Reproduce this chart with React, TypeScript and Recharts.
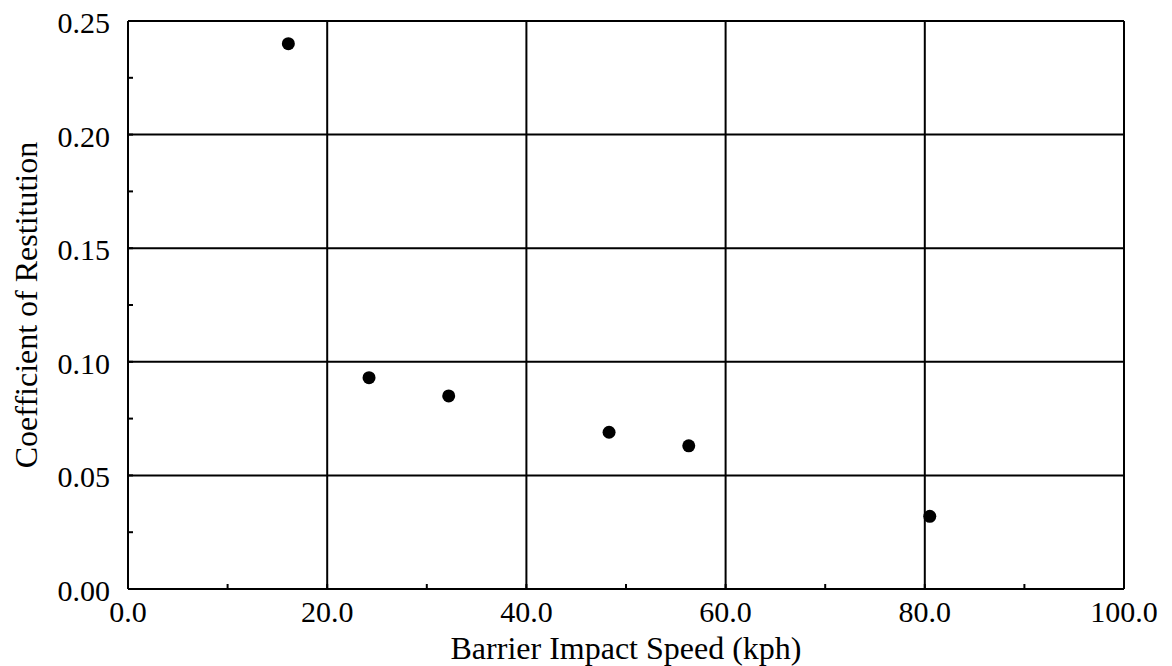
import { ScatterChart, Scatter, XAxis, YAxis, ReferenceLine } from 'recharts';

const speeds = [16.1, 24.2, 32.2, 48.3, 56.3, 80.5];
const restitution = [0.24, 0.093, 0.085, 0.069, 0.063, 0.032];

const xTicks = [0, 10, 20, 30, 40, 50, 60, 70, 80, 90, 100];
const xMajor = [0, 20, 40, 60, 80, 100];
const yTicks = [0, 0.025, 0.05, 0.075, 0.1, 0.125, 0.15, 0.175, 0.2, 0.225, 0.25];
const yMajor = [0, 0.05, 0.1, 0.15, 0.2, 0.25];

const data = speeds.map((s, i) => ({ speed: s, cor: restitution[i] }));

const FONT = '"Liberation Serif", "Times New Roman", serif';
const TICK_LEN = 5;

const isMajor = (v: number, majors: number[]) => majors.some((m) => Math.abs(m - v) < 1e-9);

function BottomTick({ x, y, payload }: any) {
  const major = isMajor(payload.value, xMajor);
  return (
    <g>
      <line x1={x} x2={x} y1={y} y2={y - TICK_LEN} stroke="#000" strokeWidth={2} />
      {major && (
        <text x={x} y={y + 33} textAnchor="middle" fontFamily={FONT} fontSize={30} fill="#000">
          {payload.value.toFixed(1)}
        </text>
      )}
    </g>
  );
}

function TopTick({ x, y }: any) {
  return <line x1={x} x2={x} y1={y} y2={y + TICK_LEN} stroke="#000" strokeWidth={2} />;
}

function LeftTick({ x, y, payload }: any) {
  const major = isMajor(payload.value, yMajor);
  return (
    <g>
      <line x1={x} x2={x + TICK_LEN} y1={y} y2={y} stroke="#000" strokeWidth={2} />
      {major && (
        <text x={x - 18} y={y + 12} textAnchor="end" fontFamily={FONT} fontSize={30} fill="#000">
          {payload.value.toFixed(2)}
        </text>
      )}
    </g>
  );
}

function RightTick({ x, y }: any) {
  return <line x1={x} x2={x - TICK_LEN} y1={y} y2={y} stroke="#000" strokeWidth={2} />;
}

const Dot = (props: any) => <circle cx={props.cx} cy={props.cy} r={6.5} fill="#000" />;

export default function App() {
  return (
    <div style={{ marginTop: -8, marginLeft: -8, width: 1172, height: 666 }}>
      <ScatterChart width={1172} height={666} margin={{ top: 21, right: 48, bottom: 0, left: 0 }}>
        <XAxis
          xAxisId="b"
          dataKey="speed"
          type="number"
          domain={[0, 100]}
          ticks={xTicks}
          interval={0}
          height={77}
          tickSize={0}
          tickMargin={0}
          tickLine={false}
          axisLine={{ stroke: '#000', strokeWidth: 2 }}
          tick={<BottomTick />}
          label={{
            content: ({ viewBox }: any) => (
              <text x={viewBox.x + viewBox.width / 2} y={viewBox.y + 70} textAnchor="middle" fontFamily={FONT} fontSize={32} fill="#000">
                Barrier Impact Speed (kph)
              </text>
            ),
          }}
        />
        <XAxis
          xAxisId="t"
          orientation="top"
          type="number"
          domain={[0, 100]}
          allowDataOverflow
          ticks={xTicks}
          interval={0}
          height={0}
          tickSize={0}
          tickMargin={0}
          tickLine={false}
          axisLine={{ stroke: '#000', strokeWidth: 2 }}
          tick={<TopTick />}
        />
        <YAxis
          yAxisId="l"
          dataKey="cor"
          type="number"
          domain={[0, 0.25]}
          ticks={yTicks}
          interval={0}
          width={128}
          tickSize={0}
          tickMargin={0}
          tickLine={false}
          axisLine={{ stroke: '#000', strokeWidth: 2 }}
          tick={<LeftTick />}
          label={{
            content: ({ viewBox }: any) => {
              const cy = viewBox.y + viewBox.height / 2;
              return (
                <text x={37} y={cy} transform={`rotate(-90 37 ${cy})`} textAnchor="middle" fontFamily={FONT} fontSize={32} fill="#000">
                  Coefficient of Restitution
                </text>
              );
            },
          }}
        />
        <YAxis
          yAxisId="r"
          orientation="right"
          type="number"
          domain={[0, 0.25]}
          allowDataOverflow
          ticks={yTicks}
          interval={0}
          width={0}
          tickSize={0}
          tickMargin={0}
          tickLine={false}
          axisLine={{ stroke: '#000', strokeWidth: 2 }}
          tick={<RightTick />}
        />
        {xMajor.map((v) => (
          <ReferenceLine key={`x${v}`} xAxisId="b" yAxisId="l" x={v} stroke="#000" strokeWidth={2} />
        ))}
        {yMajor.map((v) => (
          <ReferenceLine key={`y${v}`} xAxisId="b" yAxisId="l" y={v} stroke="#000" strokeWidth={2} />
        ))}
        <Scatter xAxisId="b" yAxisId="l" data={data} shape={<Dot />} isAnimationActive={false} />
      </ScatterChart>
    </div>
  );
}
